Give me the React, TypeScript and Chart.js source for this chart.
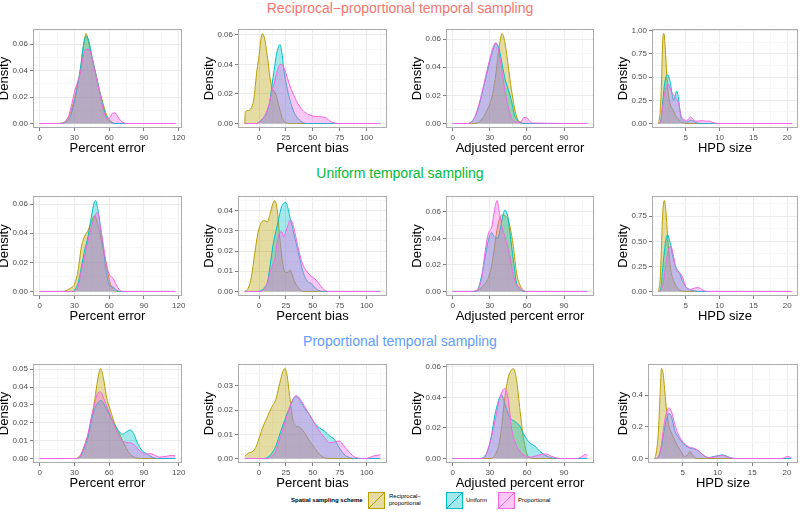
import React, { useEffect, useRef } from "react";
import { Chart, registerables } from "chart.js";
Chart.register(...registerables);

const FONT = '"Liberation Sans", Arial, Helvetica, sans-serif';
Chart.defaults.font.family = FONT;

const SERIES = ["Reciprocal−proportional", "Uniform", "Proportional"];
const SERIES_LINE = ["#B79F00", "#00BFC4", "#F564E3"];
const SERIES_FILL = ["rgba(183,159,0,0.36)", "rgba(0,191,196,0.36)", "rgba(245,100,227,0.36)"];
const ROW_TITLES = [
  "Reciprocal−proportional temporal sampling",
  "Uniform temporal sampling",
  "Proportional temporal sampling",
];
const ROW_COLORS = ["#F8766D", "#00BA38", "#619CFF"];
const X_TITLES = ["Percent error", "Percent bias", "Adjusted percent error", "HPD size"];
const LEGEND_TITLE = "Spatial sampling scheme";

// x-axis tick labels (major) and minor grid positions per column
const X_MAJOR_ERR = [0, 30, 60, 90, 120];
const X_MINOR_ERR = [15, 45, 75, 105];
const X_MAJOR_BIAS = [0, 25, 50, 75, 100];
const X_MINOR_BIAS = [-12.5, 12.5, 37.5, 62.5, 87.5, 112.5];
const X_MAJOR_ADJ = [0, 30, 60, 90];
const X_MINOR_ADJ = [15, 45, 75, 105];
const X_MAJOR_HPD = [5, 10, 15, 20];
const X_MINOR_HPD = [2.5, 7.5, 12.5, 17.5];

// y-axis tick labels per panel
const Y_R1C1 = [0, 0.02, 0.04, 0.06];
const Y_R1C2 = [0, 0.02, 0.04, 0.06];
const Y_R1C3 = [0, 0.02, 0.04, 0.06];
const Y_R1C4 = [0, 0.25, 0.5, 0.75, 1.0];
const Y_R2C1 = [0, 0.02, 0.04, 0.06];
const Y_R2C2 = [0, 0.01, 0.02, 0.03, 0.04];
const Y_R2C3 = [0, 0.02, 0.04, 0.06];
const Y_R2C4 = [0, 0.25, 0.5, 0.75];
const Y_R3C1 = [0, 0.01, 0.02, 0.03, 0.04, 0.05];
const Y_R3C2 = [0, 0.01, 0.02, 0.03];
const Y_R3C3 = [0, 0.02, 0.04, 0.06];
const Y_R3C4 = [0, 0.2, 0.4];

// ---------- Row 1: reciprocal-proportional temporal sampling ----------
const R1C1_X = [0, 15, 20, 22.5, 25, 27.5, 30, 32.5, 35, 37.5, 40, 42.5, 45, 47.5, 50, 52.5, 55, 57.5, 60, 62.5, 65, 67.5, 70, 72.5, 75, 117];
const R1C1_REC = [0, 0, 0.0005, 0.002, 0.005, 0.011, 0.019, 0.029, 0.04, 0.057, 0.068, 0.06, 0.05, 0.041, 0.031, 0.022, 0.014, 0.007, 0.003, 0.001, 0, 0, 0, 0, 0, 0];
const R1C1_UNI = [0, 0, 0, 0.001, 0.003, 0.008, 0.017, 0.028, 0.041, 0.058, 0.066, 0.062, 0.051, 0.041, 0.031, 0.021, 0.012, 0.005, 0.002, 0.0005, 0, 0, 0, 0, 0, 0];
const R1C1_PRO = [0, 0, 0.0003, 0.002, 0.006, 0.014, 0.024, 0.031, 0.038, 0.05, 0.056, 0.056, 0.05, 0.04, 0.03, 0.02, 0.01, 0.004, 0.004, 0.0075, 0.008, 0.005, 0.002, 0.0005, 0, 0];

const R1C2_X = [-13.3, -12.8, -10, -8, -5, -2, 0, 1.5, 3, 5, 8, 10, 12, 14, 16, 18, 19.5, 21, 23, 25, 28, 32, 35, 40, 45, 50, 55, 60, 63, 66, 70, 75, 112.7];
const R1C2_REC = [0, 0.0078, 0.0088, 0.0098, 0.016, 0.036, 0.046, 0.056, 0.061, 0.058, 0.044, 0.032, 0.024, 0.022, 0.019, 0.013, 0.009, 0.005, 0.0018, 0.0005, 0, 0, 0, 0, 0, 0, 0, 0, 0, 0, 0, 0, 0];
const R1C2_UNI = [0, 0, 0, 0, 0, 0, 0.001, 0.002, 0.003, 0.0045, 0.009, 0.015, 0.026, 0.036, 0.046, 0.052, 0.0535, 0.049, 0.037, 0.028, 0.018, 0.0085, 0.0045, 0.001, 0, 0, 0, 0, 0, 0, 0, 0, 0];
const R1C2_PRO = [0, 0, 0, 0, 0, 0, 0.001, 0.0015, 0.003, 0.005, 0.01, 0.015, 0.022, 0.027, 0.033, 0.038, 0.04, 0.04, 0.038, 0.034, 0.027, 0.0195, 0.015, 0.0094, 0.0065, 0.005, 0.0047, 0.0043, 0.0034, 0.0016, 0.0004, 0, 0];

const R1C3_X = [0, 12.5, 15, 17.5, 20, 22.5, 25, 27.5, 30, 32.5, 35, 37.5, 40, 42.5, 45, 47.5, 50, 52.5, 55, 57.5, 60, 62.5, 65, 108.8];
const R1C3_REC = [0, 0, 0, 0, 0.0005, 0.002, 0.005, 0.009, 0.014, 0.022, 0.036, 0.054, 0.064, 0.056, 0.04, 0.024, 0.011, 0.003, 0.001, 0, 0, 0, 0, 0];
const R1C3_UNI = [0, 0, 0.001, 0.004, 0.009, 0.017, 0.026, 0.035, 0.044, 0.052, 0.057, 0.053, 0.042, 0.031, 0.024, 0.016, 0.006, 0.002, 0.0005, 0, 0, 0, 0, 0];
const R1C3_PRO = [0, 0, 0.001, 0.004, 0.01, 0.018, 0.027, 0.037, 0.046, 0.054, 0.0575, 0.05, 0.036, 0.022, 0.011, 0.004, 0.0015, 0.001, 0.0012, 0.0042, 0.004, 0.0015, 0.0003, 0];

const R1C4_X = [1, 1.25, 1.4, 1.6, 1.77, 2.0, 2.2, 2.35, 2.5, 2.7, 2.9, 3.2, 3.4, 3.65, 3.9, 4.1, 4.3, 4.6, 5, 5.35, 5.7, 6.05, 6.5, 7, 7.5, 8, 8.5, 9, 9.5, 10, 20.6];
const R1C4_REC = [0, 0.15, 0.39, 0.89, 0.97, 0.79, 0.52, 0.37, 0.28, 0.21, 0.17, 0.14, 0.1, 0.07, 0.05, 0.036, 0.02, 0.007, 0, 0, 0, 0, 0, 0, 0, 0, 0, 0, 0, 0, 0];
const R1C4_UNI = [0, 0.01, 0.08, 0.22, 0.36, 0.48, 0.52, 0.525, 0.5, 0.45, 0.36, 0.25, 0.29, 0.35, 0.29, 0.17, 0.07, 0.036, 0.015, 0.02, 0.035, 0.03, 0.01, 0.002, 0, 0, 0, 0, 0, 0, 0];
const R1C4_PRO = [0, 0.01, 0.06, 0.18, 0.28, 0.36, 0.41, 0.42, 0.42, 0.38, 0.34, 0.31, 0.29, 0.26, 0.23, 0.16, 0.09, 0.05, 0.035, 0.04, 0.07, 0.05, 0.025, 0.028, 0.03, 0.025, 0.025, 0.01, 0.002, 0, 0];

// ---------- Row 2: uniform temporal sampling ----------
const R2C1_X = [0, 20, 25, 28, 30, 33, 36, 38.8, 41.7, 44.6, 47, 48.3, 50, 52, 54.7, 57.6, 60.4, 63.3, 66.2, 69, 72, 117];
const R2C1_REC = [0, 0, 0.0015, 0.003, 0.005, 0.014, 0.031, 0.038, 0.042, 0.048, 0.052, 0.051, 0.046, 0.04, 0.0285, 0.019, 0.0067, 0.002, 0, 0, 0, 0];
const R2C1_UNI = [0, 0, 0, 0, 0.001, 0.0055, 0.017, 0.0285, 0.038, 0.0515, 0.061, 0.0625, 0.057, 0.047, 0.031, 0.013, 0.004, 0.003, 0.001, 0, 0, 0];
const R2C1_PRO = [0, 0, 0, 0, 0, 0.003, 0.0147, 0.024, 0.035, 0.0446, 0.05, 0.053, 0.0545, 0.046, 0.033, 0.018, 0.0113, 0.009, 0.0044, 0.001, 0, 0];

const R2C2_X = [-13.3, -10, -7, -4, -1, 2, 5, 8, 10, 13, 14.5, 17, 19, 21, 23, 25, 27, 29, 31, 33, 35, 38, 41, 45, 48.5, 52, 55.5, 59, 62, 65, 112.7];
const R2C2_REC = [0, 0.0017, 0.0075, 0.019, 0.029, 0.034, 0.035, 0.0345, 0.038, 0.0436, 0.045, 0.04, 0.028, 0.018, 0.011, 0.0093, 0.0095, 0.0106, 0.008, 0.005, 0.003, 0.001, 0, 0, 0, 0, 0, 0, 0, 0, 0];
const R2C2_UNI = [0, 0, 0, 0, 0, 0.0005, 0.002, 0.005, 0.012, 0.023, 0.027, 0.033, 0.038, 0.042, 0.0437, 0.044, 0.041, 0.036, 0.032, 0.027, 0.0228, 0.016, 0.0095, 0.005, 0.004, 0.0018, 0.0005, 0, 0, 0, 0];
const R2C2_PRO = [0, 0, 0, 0, 0, 0, 0.0015, 0.005, 0.009, 0.0135, 0.0155, 0.025, 0.029, 0.0295, 0.027, 0.03, 0.033, 0.0355, 0.034, 0.03, 0.025, 0.018, 0.013, 0.0095, 0.0075, 0.0062, 0.004, 0.0016, 0.0003, 0, 0];

const R2C3_X = [0, 15, 18, 21, 23.6, 26.3, 28.9, 31.6, 33.8, 35.9, 37.8, 40, 42.3, 44.5, 46.3, 49, 51.7, 54.4, 57, 60, 108.8];
const R2C3_REC = [0, 0, 0, 0.001, 0.0035, 0.006, 0.0105, 0.02, 0.034, 0.047, 0.055, 0.0577, 0.057, 0.055, 0.049, 0.034, 0.0136, 0.0048, 0.001, 0, 0];
const R2C3_UNI = [0, 0, 0, 0.003, 0.013, 0.026, 0.039, 0.0444, 0.041, 0.04, 0.044, 0.055, 0.0615, 0.0565, 0.044, 0.0237, 0.006, 0.0015, 0, 0, 0];
const R2C3_PRO = [0, 0, 0.0005, 0.0025, 0.011, 0.031, 0.044, 0.049, 0.0615, 0.0686, 0.059, 0.048, 0.0413, 0.033, 0.026, 0.012, 0.005, 0.003, 0.0005, 0, 0];

const R2C4_X = [1, 1.25, 1.4, 1.6, 1.85, 2.1, 2.35, 2.6, 2.8, 3.2, 3.65, 4.1, 4.5, 5, 5.6, 6.3, 6.8, 7.3, 7.8, 8.3, 20.6];
const R2C4_REC = [0, 0.15, 0.41, 0.78, 0.907, 0.78, 0.52, 0.33, 0.21, 0.11, 0.047, 0.015, 0.003, 0, 0, 0, 0, 0, 0, 0, 0];
const R2C4_UNI = [0, 0.01, 0.07, 0.23, 0.4, 0.53, 0.563, 0.51, 0.46, 0.31, 0.23, 0.18, 0.11, 0.047, 0.02, 0.005, 0, 0, 0, 0, 0];
const R2C4_PRO = [0, 0.005, 0.015, 0.05, 0.16, 0.29, 0.39, 0.44, 0.453, 0.35, 0.21, 0.187, 0.147, 0.047, 0.02, 0.033, 0.04, 0.025, 0.005, 0, 0];

// ---------- Row 3: proportional temporal sampling ----------
const R3C1_X = [0, 30, 33, 36, 38.5, 41.5, 44.5, 47.5, 50, 52.5, 55, 57.5, 61, 64.5, 68, 71.5, 75, 78, 81, 84.5, 88, 91.5, 95, 99, 103.5, 109, 113.5, 117];
const R3C1_REC = [0, 0, 0.0005, 0.0028, 0.007, 0.013, 0.0215, 0.033, 0.044, 0.0504, 0.045, 0.035, 0.027, 0.02, 0.015, 0.01, 0.0055, 0.0025, 0.001, 0.0002, 0, 0, 0, 0, 0, 0, 0, 0];
const R3C1_UNI = [0, 0, 0, 0.002, 0.006, 0.0115, 0.021, 0.028, 0.031, 0.0325, 0.031, 0.028, 0.0235, 0.019, 0.0155, 0.0136, 0.015, 0.016, 0.014, 0.0085, 0.0047, 0.003, 0.0015, 0.0003, 0, 0, 0, 0];
const R3C1_PRO = [0, 0, 0, 0.003, 0.007, 0.0135, 0.023, 0.031, 0.0365, 0.0373, 0.034, 0.03, 0.024, 0.018, 0.013, 0.01, 0.009, 0.0088, 0.008, 0.0055, 0.0035, 0.0024, 0.0028, 0.002, 0.0008, 0.0012, 0.0017, 0.0015];

const R3C2_X = [-13.3, -10, -5.5, -2.5, 0.5, 3.5, 8, 11.5, 15.5, 18.5, 21.5, 24, 26, 28.5, 31.5, 34.5, 37.5, 42, 47, 51.5, 56, 61, 65.5, 70, 74.5, 79, 84, 90, 99, 107, 112.7];
const R3C2_REC = [0.001, 0.0022, 0.0031, 0.0052, 0.009, 0.013, 0.0175, 0.021, 0.0243, 0.0297, 0.035, 0.0372, 0.0345, 0.0256, 0.016, 0.0134, 0.013, 0.0108, 0.0072, 0.0045, 0.0018, 0.0003, 0, 0, 0, 0, 0, 0, 0, 0, 0];
const R3C2_UNI = [0, 0, 0, 0, 0, 0, 0.0005, 0.002, 0.005, 0.009, 0.013, 0.016, 0.0185, 0.021, 0.0243, 0.0256, 0.0245, 0.021, 0.018, 0.0147, 0.0127, 0.0113, 0.0093, 0.0079, 0.0045, 0.0018, 0.0004, 0, 0, 0, 0];
const R3C2_PRO = [0, 0, 0, 0, 0, 0, 0, 0.001, 0.003, 0.007, 0.011, 0.015, 0.0178, 0.0215, 0.0245, 0.026, 0.025, 0.0218, 0.018, 0.0147, 0.0113, 0.0086, 0.0065, 0.0068, 0.0072, 0.0052, 0.0025, 0.0004, 0, 0.0011, 0.0015];

const R3C3_X = [0, 22, 25, 28, 31, 34, 37, 39.5, 42, 45, 47.5, 49, 51.5, 54.5, 57, 60, 63, 66.5, 70.5, 75, 79.5, 84, 90, 100, 104, 107, 108.8];
const R3C3_REC = [0, 0, 0, 0, 0, 0.002, 0.008, 0.02, 0.039, 0.0535, 0.058, 0.059, 0.052, 0.031, 0.0145, 0.003, 0.0004, 0, 0, 0, 0, 0, 0, 0, 0, 0, 0];
const R3C3_UNI = [0, 0, 0.001, 0.0045, 0.014, 0.028, 0.038, 0.0416, 0.036, 0.029, 0.0255, 0.025, 0.0235, 0.021, 0.0165, 0.0125, 0.0098, 0.008, 0.0047, 0.002, 0.0006, 0, 0, 0, 0, 0, 0];
const R3C3_PRO = [0, 0, 0, 0.005, 0.013, 0.024, 0.036, 0.043, 0.0459, 0.0383, 0.02, 0.0145, 0.0085, 0.0045, 0.0026, 0.0012, 0.001, 0.0015, 0.0024, 0.003, 0.0016, 0.0003, 0, 0, 0.001, 0.0026, 0.002];

const R3C4_X = [1, 1.25, 1.5, 1.74, 1.97, 2.2, 2.44, 2.7, 3.0, 3.4, 3.85, 4.3, 4.8, 5.26, 5.7, 6.05, 6.4, 6.9, 7.4, 8.1, 8.8, 9.5, 10.2, 10.75, 11.4, 12.1, 13, 19, 19.5, 20.05, 20.6];
const R3C4_REC = [0, 0.05, 0.16, 0.39, 0.568, 0.536, 0.42, 0.3, 0.21, 0.16, 0.117, 0.075, 0.044, 0.013, 0.023, 0.044, 0.023, 0.003, 0, 0, 0, 0, 0, 0, 0, 0, 0, 0, 0, 0, 0];
const R3C4_UNI = [0, 0, 0.01, 0.035, 0.075, 0.14, 0.2, 0.25, 0.285, 0.262, 0.18, 0.14, 0.11, 0.086, 0.072, 0.065, 0.062, 0.058, 0.044, 0.017, 0.006, 0.013, 0.019, 0.023, 0.013, 0.002, 0, 0, 0, 0, 0];
const R3C4_PRO = [0, 0, 0.01, 0.04, 0.096, 0.17, 0.243, 0.29, 0.32, 0.295, 0.22, 0.16, 0.12, 0.092, 0.078, 0.07, 0.067, 0.06, 0.044, 0.017, 0.006, 0.01, 0.017, 0.019, 0.01, 0.002, 0, 0, 0.003, 0.013, 0.006];

// ---------- layout (pixels) ----------
const COLS: [number, number][] = [[33, 182], [238, 387], [446, 594], [652, 798]];
const ROWS: [number, number][] = [[29, 128], [196, 296], [364, 463]];
const PAD_T = 8;
const PAD_R = 8;
const AXIS_B = 28;
const AXIS_L = 36;

type Spec = {
  xs: number[]; rec: number[]; uni: number[]; pro: number[];
  xMajor: number[]; xMinor: number[]; yMajor: number[]; yDec: number;
  xTitle: string; left: number; right: number; top: number; bottom: number; axisL: number;
};

const COL_X = [
  [X_MAJOR_ERR, X_MINOR_ERR],
  [X_MAJOR_BIAS, X_MINOR_BIAS],
  [X_MAJOR_ADJ, X_MINOR_ADJ],
  [X_MAJOR_HPD, X_MINOR_HPD],
];

const RAW: [number, number, number[], number[], number[], number[], number[], number][] = [
  [0, 0, R1C1_X, R1C1_REC, R1C1_UNI, R1C1_PRO, Y_R1C1, 2],
  [0, 1, R1C2_X, R1C2_REC, R1C2_UNI, R1C2_PRO, Y_R1C2, 2],
  [0, 2, R1C3_X, R1C3_REC, R1C3_UNI, R1C3_PRO, Y_R1C3, 2],
  [0, 3, R1C4_X, R1C4_REC, R1C4_UNI, R1C4_PRO, Y_R1C4, 2],
  [1, 0, R2C1_X, R2C1_REC, R2C1_UNI, R2C1_PRO, Y_R2C1, 2],
  [1, 1, R2C2_X, R2C2_REC, R2C2_UNI, R2C2_PRO, Y_R2C2, 2],
  [1, 2, R2C3_X, R2C3_REC, R2C3_UNI, R2C3_PRO, Y_R2C3, 2],
  [1, 3, R2C4_X, R2C4_REC, R2C4_UNI, R2C4_PRO, Y_R2C4, 2],
  [2, 0, R3C1_X, R3C1_REC, R3C1_UNI, R3C1_PRO, Y_R3C1, 2],
  [2, 1, R3C2_X, R3C2_REC, R3C2_UNI, R3C2_PRO, Y_R3C2, 2],
  [2, 2, R3C3_X, R3C3_REC, R3C3_UNI, R3C3_PRO, Y_R3C3, 2],
  [2, 3, R3C4_X, R3C4_REC, R3C4_UNI, R3C4_PRO, Y_R3C4, 1],
];

const PANELS: Spec[] = RAW.map(([r, c, xs, rec, uni, pro, yMajor, yDec]) => {
  const narrow = r === 2 && c === 3;
  return {
    xs, rec, uni, pro, yMajor, yDec,
    xMajor: COL_X[c][0], xMinor: COL_X[c][1], xTitle: X_TITLES[c],
    left: narrow ? 648 : COLS[c][0], right: COLS[c][1], top: ROWS[r][0], bottom: ROWS[r][1],
    axisL: narrow ? 32 : AXIS_L,
  };
});

const framePlugin = {
  id: "panelFrame",
  afterDraw(chart: any) {
    const { ctx, chartArea: a } = chart;
    ctx.save();
    ctx.strokeStyle = "#ABABAB";
    ctx.lineWidth = 1;
    ctx.strokeRect(Math.round(a.left) + 0.5, Math.round(a.top) + 0.5, Math.round(a.right - a.left) - 1, Math.round(a.bottom - a.top) - 1);
    ctx.restore();
  },
};

const near = (arr: number[], v: number) => arr.some((m) => Math.abs(m - v) < 1e-9);

function buildConfig(p: Spec): any {
  const x0 = p.xs[0], x1 = p.xs[p.xs.length - 1];
  const xPad = 0.05 * (x1 - x0);
  const xMin = x0 - xPad, xMax = x1 + xPad;
  const yTop = Math.max(...p.rec, ...p.uni, ...p.pro);
  const yMin = -0.05 * yTop, yMax = 1.05 * yTop;
  const yStep = p.yMajor[1] - p.yMajor[0];
  const yMinor = [p.yMajor[0] - yStep / 2, ...p.yMajor.map((v) => v + yStep / 2)];
  const xTicks = [...p.xMajor, ...p.xMinor].filter((v) => v >= xMin && v <= xMax).sort((a, b) => a - b);
  const yTicks = [...p.yMajor, ...yMinor].filter((v) => v >= yMin && v <= yMax).sort((a, b) => a - b);
  const series = [p.rec, p.uni, p.pro];
  const datasets = series.map((ys, i) => ({
    label: SERIES[i],
    data: p.xs.map((x, k) => ({ x, y: ys[k] })),
    borderColor: SERIES_LINE[i],
    backgroundColor: SERIES_FILL[i],
    borderWidth: 1,
    pointRadius: 0,
    fill: "origin",
    cubicInterpolationMode: "monotone",
    order: 2 - i,
  }));
  const tickFont = { size: 8, family: FONT };
  return {
    type: "line",
    data: { datasets },
    options: {
      animation: false,
      responsive: false,
      maintainAspectRatio: false,
      events: [],
      layout: { padding: { left: 0, top: PAD_T, right: PAD_R, bottom: 0 } },
      plugins: { legend: { display: false }, tooltip: { enabled: false } },
      scales: {
        x: {
          type: "linear",
          min: xMin,
          max: xMax,
          afterBuildTicks: (s: any) => { s.ticks = xTicks.map((v) => ({ value: v })); },
          afterFit: (s: any) => { s.height = AXIS_B; },
          border: { display: false },
          grid: {
            color: (c: any) => (near(p.xMajor, c.tick.value) ? "#EBEBEB" : "#F7F7F7"),
            tickColor: (c: any) => (near(p.xMajor, c.tick.value) ? "#7F7F7F" : "rgba(0,0,0,0)"),
            tickLength: 3,
            lineWidth: 1,
          },
          ticks: {
            autoSkip: false, maxRotation: 0, minRotation: 0, padding: 2,
            color: "#4D4D4D", font: tickFont,
            callback: (v: any) => (near(p.xMajor, v) ? String(v) : ""),
          },
          title: { display: true, text: p.xTitle, color: "#000", font: { size: 13, family: FONT }, padding: 0 },
        },
        y: {
          type: "linear",
          min: yMin,
          max: yMax,
          afterBuildTicks: (s: any) => { s.ticks = yTicks.map((v) => ({ value: v })); },
          afterFit: (s: any) => { s.width = p.axisL; },
          border: { display: false },
          grid: {
            color: (c: any) => (near(p.yMajor, c.tick.value) ? "#EBEBEB" : "#F7F7F7"),
            tickColor: (c: any) => (near(p.yMajor, c.tick.value) ? "#7F7F7F" : "rgba(0,0,0,0)"),
            tickLength: 3,
            lineWidth: 1,
          },
          ticks: {
            autoSkip: false, padding: 2,
            color: "#4D4D4D", font: tickFont,
            callback: (v: any) => (near(p.yMajor, v) ? Number(v).toFixed(p.yDec) : ""),
          },
          title: { display: true, text: "Density", color: "#000", font: { size: 13, family: FONT }, padding: 0 },
        },
      },
    },
    plugins: [framePlugin],
  };
}

function Panel({ spec }: { spec: Spec }) {
  const ref = useRef<HTMLCanvasElement | null>(null);
  const w = spec.right - spec.left + spec.axisL + PAD_R;
  const h = spec.bottom - spec.top + PAD_T + AXIS_B;
  useEffect(() => {
    const chart = new Chart(ref.current as HTMLCanvasElement, buildConfig(spec));
    return () => chart.destroy();
  }, [spec]);
  return (
    <canvas
      ref={ref}
      width={w}
      height={h}
      style={{ position: "absolute", left: spec.left - spec.axisL, top: spec.top - PAD_T, width: w, height: h }}
    />
  );
}

const TITLE_Y = [8, 172.7, 340.7];

function LegendKey({ i, left }: { i: number; left: number }) {
  return (
    <svg width={17} height={17} style={{ position: "absolute", left, top: 492 }}>
      <rect x={0.5} y={0.5} width={16} height={16} fill={SERIES_FILL[i]} stroke={SERIES_LINE[i]} strokeWidth={1} />
      <line x1={0.5} y1={16.5} x2={16.5} y2={0.5} stroke={SERIES_LINE[i]} strokeWidth={1} />
    </svg>
  );
}

export default function App() {
  const small: React.CSSProperties = { position: "absolute", fontSize: 6, lineHeight: "7px", color: "#000", whiteSpace: "nowrap" };
  return (
    <div style={{ position: "absolute", left: 0, top: 0, width: 800, height: 526, overflow: "hidden", background: "#fff", fontFamily: FONT }}>
      {ROW_TITLES.map((t, i) => (
        <div key={t} style={{ position: "absolute", left: 0, width: 800, top: TITLE_Y[i] - 8, height: 16, lineHeight: "16px", textAlign: "center", fontSize: 14, color: ROW_COLORS[i] }}>
          {t}
        </div>
      ))}
      {PANELS.map((p, i) => (
        <Panel key={i} spec={p} />
      ))}
      <div style={{ ...small, left: 291, top: 497, fontWeight: "bold" }}>{LEGEND_TITLE}</div>
      <LegendKey i={0} left={368} />
      <div style={{ ...small, left: 389, top: 493 }}>Reciprocal−<br />proportional</div>
      <LegendKey i={1} left={446} />
      <div style={{ ...small, left: 466, top: 497 }}>{SERIES[1]}</div>
      <LegendKey i={2} left={498} />
      <div style={{ ...small, left: 518, top: 497 }}>{SERIES[2]}</div>
    </div>
  );
}
